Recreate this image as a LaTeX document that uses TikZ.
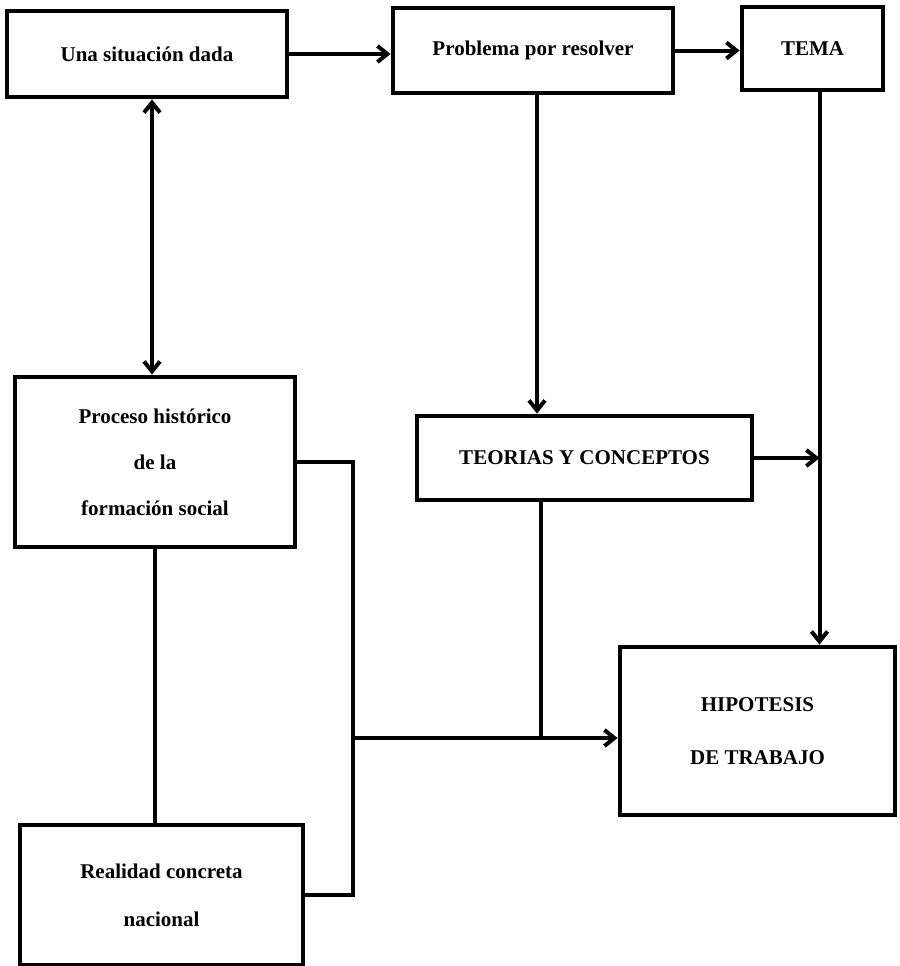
\documentclass[tikz,border=0pt]{standalone}
\usepackage{fontspec}
\setmainfont{Liberation Serif}
\usetikzlibrary{arrows.meta}

\begin{document}
\begin{tikzpicture}[x=0.5pt,y=-0.5pt,
        caja/.style={draw,line width=2.4pt,inner sep=0pt,align=center,font=\bfseries\fontsize{10.5}{23}\selectfont},
        linea/.style={line width=2pt},
        flecha/.style={line width=2pt,-{Straight Barb[length=5pt,width=8pt]}},
        flechas/.style={line width=2pt,{Straight Barb[length=5pt,width=8pt]}-{Straight Barb[length=5pt,width=8pt]}}]
    \useasboundingbox (0,0) rectangle (900,966);
    \node[caja,minimum width=140pt,minimum height=43pt] (una) at (147,54) {Una situación dada};
    \node[caja,minimum width=140pt,minimum height=42.5pt] (prob) at (533,50.5) {Problema por resolver};
    \node[caja,minimum width=70.5pt,minimum height=41.5pt] (tema) at (812.5,48.5) {TEMA};
    \node[caja,minimum width=140pt,minimum height=85pt] (proc) at (155,462) {Proceso histórico\\de la\\formación social};
    \node[caja,minimum width=167.5pt,minimum height=42pt] (teor) at (584.5,458) {TEORIAS Y CONCEPTOS};
    \node[caja,minimum width=137.5pt,minimum height=84pt,font=\bfseries\fontsize{10.5}{26.5}\selectfont] (hip) at (757.5,731) {HIPOTESIS\\DE TRABAJO};
    \node[caja,minimum width=141.5pt,minimum height=70pt,font=\bfseries\fontsize{10.5}{24}\selectfont] (real) at (161.5,895) {Realidad concreta\\nacional};
    \coordinate (rama) at (353,738);
    \coordinate (cruce) at ([xshift=3.5pt]tema.south |- teor.east);
    \draw[flecha] (una.east) -- (una.east -| prob.west);
    \draw[flecha] (prob.east) -- (prob.east -| tema.west);
    \draw[flechas] ([xshift=2.5pt]una.south) -- ([xshift=2.5pt]una.south |- proc.north);
    \draw[flecha] ([xshift=2pt]prob.south) -- ([xshift=2pt]prob.south |- teor.north);
    \draw[flecha] ([xshift=3.5pt]tema.south) -- (cruce |- hip.north);
    \draw[flecha] (teor.east) -- (cruce);
    \draw[linea] ([xshift=4pt]prob.south |- teor.south) -- ([xshift=4pt]prob.south |- rama);
    \draw[linea] (proc.east) -| (rama) |- (real.east);
    \draw[flecha] (rama) -- (rama -| hip.west);
    \draw[linea] (proc.south) -- (proc.south |- real.north);
\end{tikzpicture}
\end{document}
